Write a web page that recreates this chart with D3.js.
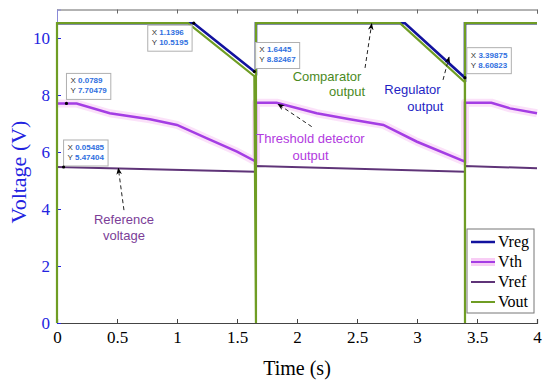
<!DOCTYPE html>
<html>
<head>
<meta charset="utf-8"/>
<script src="https://d3js.org/d3.v7.min.js"></script>
<style>
  body { margin: 0; background: #fff; }
</style>
</head>
<body>
<div id="chart"></div>
<script>
// time (s) and voltage (V)
var vregT = [0, 1.1396, 1.6445, 1.658, 1.658, 2.90, 3.39875, 3.40, 3.40, 4];
var vregV = [10.5195, 10.5195, 8.82467, 8.78, 10.5195, 10.5195, 8.60823, 8.60, 10.5195, 10.5195];

var vthT = [0, 0.164, 0.44, 0.775, 1.0, 1.25, 1.5, 1.658, 1.658, 1.83, 2.164, 2.44, 2.72, 3.0, 3.40, 3.40, 3.62, 3.775, 4.0];
var vthV = [7.70, 7.70, 7.36, 7.15, 6.95, 6.48, 6.01, 5.66, 7.73, 7.73, 7.36, 7.15, 6.95, 6.36, 5.66, 7.73, 7.73, 7.53, 7.36];

var vrefT = [0, 1.658, 1.658, 3.40, 3.40, 4];
var vrefV = [5.47, 5.31, 5.51, 5.31, 5.51, 5.43];

var voutT = [0, 0, 1.092, 1.6445, 1.658, 1.658, 2.858, 3.39875, 3.40, 3.40, 4];
var voutV = [0, 10.5195, 10.5195, 8.66, 0, 10.5195, 10.5195, 8.45, 0, 10.5195, 10.5195];

var seriesNames = ["Vreg", "Vth", "Vref", "Vout"];
var xTicks = [0, 0.5, 1, 1.5, 2, 2.5, 3, 3.5, 4];
var yTicks = [0, 2, 4, 6, 8, 10];

// data tips
var tipX = [1.1396, 0.0789, 1.6445, 3.39875, 0.05485];
var tipY = [10.5195, 7.70479, 8.82467, 8.60823, 5.47404];

var annLines = [["Comparator", "output"], ["Regulator", "output"],
                ["Threshold detector", "output"], ["Reference", "voltage"]];

var width = 550, height = 385;
var svg = d3.select("#chart").append("svg")
    .attr("width", width).attr("height", height)
    .style("font-family", "'Liberation Serif', 'Times New Roman', serif");

var x = d3.scaleLinear().domain([0, 4]).range([57, 537]);
var y = d3.scaleLinear().domain([0, 11]).range([323, 9.5]);

var colors = {Vreg: "#12129e", Vth: "#a43de4", Vref: "#5f3478", Vout: "#6f9d24"};
var axisBlue = "#2323e0";

//Axes: MATLAB style, ticks inside
var xAxis = svg.append("g")
    .attr("transform", "translate(0," + y(0) + ")")
    .call(d3.axisBottom(x).tickValues(xTicks).tickSize(-4).tickPadding(8)
        .tickFormat(d3.format("~g")));
xAxis.select(".domain").attr("stroke", "#444").attr("stroke-width", 1.2);
xAxis.selectAll(".tick line").attr("stroke", "#444");
xAxis.selectAll("text").attr("fill", "#000")
    .style("font-size", "17px").style("font-family", "'Liberation Serif', serif");

//top border with ticks
var xTop = svg.append("g")
    .attr("transform", "translate(0," + y(11) + ")")
    .call(d3.axisTop(x).tickValues(xTicks).tickSize(-4).tickFormat(""));
xTop.select(".domain").attr("stroke", "#666");
xTop.selectAll(".tick line").attr("stroke", "#666");

var yAxis = svg.append("g")
    .attr("transform", "translate(" + x(0) + ",0)")
    .call(d3.axisLeft(y).tickValues(yTicks).tickSize(-4).tickPadding(7));
yAxis.select(".domain").attr("stroke", "#8a8ad8");
yAxis.selectAll(".tick line").attr("stroke", axisBlue);
yAxis.selectAll("text").attr("fill", axisBlue)
    .style("font-size", "17px").style("font-family", "'Liberation Serif', serif");

//Axis labels
svg.append("text")
    .attr("transform", "translate(26," + 172 + ") rotate(-90)")
    .attr("text-anchor", "middle")
    .attr("fill", axisBlue)
    .style("font-size", "22px")
    .text("Voltage (V)");

svg.append("text")
    .attr("x", 297).attr("y", 375)
    .attr("text-anchor", "middle")
    .attr("fill", "#000")
    .style("font-size", "20px")
    .text("Time (s)");

//Lines
function pts(t, v) { return t.map(function(d, i) { return [d, v[i]]; }); }
var line = d3.line().x(function(d) { return x(d[0]); }).y(function(d) { return y(d[1]); });

var plot = svg.append("g");
plot.append("path").datum(pts(vthT, vthV)).attr("d", line)
    .attr("fill", "none").attr("stroke", "#f8cdf5").attr("stroke-width", 8)
    .attr("stroke-linejoin", "round").attr("opacity", 0.6);
plot.append("path").datum(pts(vthT, vthV)).attr("d", line)
    .attr("fill", "none").attr("stroke", colors.Vth).attr("stroke-width", 2.5);
plot.append("path").datum(pts(vrefT, vrefV)).attr("d", line)
    .attr("fill", "none").attr("stroke", colors.Vref).attr("stroke-width", 2);
plot.append("path").datum(pts(vregT, vregV)).attr("d", line)
    .attr("fill", "none").attr("stroke", colors.Vreg).attr("stroke-width", 2.6);
plot.append("path").datum(pts(voutT, voutV)).attr("d", line)
    .attr("fill", "none").attr("stroke", colors.Vout).attr("stroke-width", 2.2);

//Annotations with dashed arrows
svg.append("defs").append("marker")
    .attr("id", "head").attr("viewBox", "0 0 10 10")
    .attr("refX", 9).attr("refY", 5)
    .attr("markerWidth", 7).attr("markerHeight", 7)
    .attr("orient", "auto")
  .append("path").attr("d", "M0,1 L10,5 L0,9 L3,5 Z").attr("fill", "#000");

var annColors = ["#4b8a1e", "#1f1fc4", "#b23ae0", "#7b3e97"];
// [center t, baseline v] for each text line
var annPos = [[[2.25, 8.50], [2.417, 7.96]], [[2.9625, 8.035], [3.07, 7.44]],
              [[2.1125, 6.32], [2.1125, 5.72]], [[0.558, 3.47], [0.558, 2.91]]];
// arrow from/to in data units
var annArrow = [[[2.567, 8.95], [2.6225, 10.50]], [[3.217, 8.53], [3.267, 9.33]],
                [[2.1225, 6.89], [1.842, 7.68]], [[0.558, 3.96], [0.511, 5.43]]];

annLines.forEach(function(lines, i) {
    lines.forEach(function(s, j) {
        svg.append("text")
            .attr("x", x(annPos[i][j][0])).attr("y", y(annPos[i][j][1]))
            .attr("text-anchor", "middle")
            .attr("fill", annColors[i])
            .style("font-family", "'Liberation Sans', Arial, sans-serif")
            .style("font-size", "13px")
            .text(s);
    });
    svg.append("line")
        .attr("x1", x(annArrow[i][0][0])).attr("y1", y(annArrow[i][0][1]))
        .attr("x2", x(annArrow[i][1][0])).attr("y2", y(annArrow[i][1][1]))
        .attr("stroke", "#222").attr("stroke-width", 1)
        .attr("stroke-dasharray", "4,3")
        .attr("marker-end", "url(#head)");
});

//Data tips
// box offset from the point: [dx, dy]
var tipOffsets = [[-46, 2], [0, -30], [1, -29], [2, -30], [0, -27]];
tipX.forEach(function(tx, i) {
    var px = x(tx), py = y(tipY[i]);
    var g = svg.append("g")
        .attr("transform", "translate(" + (px + tipOffsets[i][0]) + "," + (py + tipOffsets[i][1]) + ")");
    var box = g.append("rect").attr("height", 26)
        .attr("fill", "#fff").attr("fill-opacity", 0.92)
        .attr("stroke", "#b0b0b0").attr("stroke-width", 1);
    var rows = [["X", String(tx)], ["Y", String(tipY[i])]];
    var w = 0;
    rows.forEach(function(r, k) {
        var t = g.append("text")
            .attr("x", 4).attr("y", 10 + k * 10)
            .style("font-family", "'Liberation Sans', Arial, sans-serif")
            .style("font-size", "8px");
        t.append("tspan").attr("fill", "#333").text(r[0] + " ");
        t.append("tspan").attr("fill", "#2f6fe0").attr("font-weight", "bold").text(r[1]);
        w = Math.max(w, t.node().getComputedTextLength());
    });
    box.attr("width", w + 8);
    svg.append("circle").attr("cx", px).attr("cy", py).attr("r", 1.6).attr("fill", "#000");
});

//Legend
var lg = svg.append("g").attr("transform", "translate(467,229)");
lg.append("rect").attr("width", 67).attr("height", 84)
    .attr("fill", "#fff").attr("stroke", "#777").attr("stroke-width", 1);
seriesNames.forEach(function(name, i) {
    var ly = 13 + i * 20;
    if (name === "Vth") {
        lg.append("line").attr("x1", 4).attr("x2", 28).attr("y1", ly).attr("y2", ly)
            .attr("stroke", "#f8cdf5").attr("stroke-width", 8);
    }
    lg.append("line").attr("x1", 4).attr("x2", 28).attr("y1", ly).attr("y2", ly)
        .attr("stroke", colors[name]).attr("stroke-width", name === "Vreg" ? 2.5 : 2);
    lg.append("text").attr("x", 31).attr("y", ly + 5)
        .attr("fill", "#000").style("font-size", "16px").text(name);
});
</script>
</body>
</html>
